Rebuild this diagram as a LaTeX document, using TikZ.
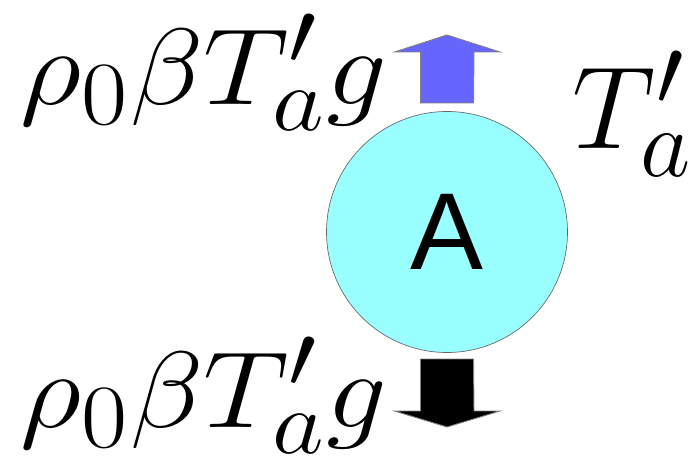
\documentclass[tikz,border=0pt]{standalone}
\usepackage{fontspec}
\newfontfamily\labelsans{Liberation Sans}
\usetikzlibrary{positioning, calc}
\definecolor{parcelcyan}{HTML}{99FFFF}
\definecolor{buoyblue}{HTML}{6666FF}

\begin{document}
\begin{tikzpicture}[
    x=0.75pt, y=-0.75pt,
    % Styles for the parcel and the force arrows
    parcel/.style={draw=gray!80!black, fill=parcelcyan, circle, minimum size=241*0.75pt, inner sep=0pt, line width=0.5pt, font=\labelsans\fontsize{82}{90}\selectfont},
    force_up/.style={draw=gray, fill=buoyblue, line width=0.7pt},
    force_down/.style={draw=gray, fill=black, line width=0.7pt},
    % Force labels are set a little wider than tall
    force_math/.style={inner sep=0pt, font=\Huge, xscale=3.63, yscale=3.27},
    big_math/.style={inner sep=0pt, font=\Huge, scale=3.53}
]
    \useasboundingbox (0,0) rectangle (696,460);

    % ==================== Parcel ====================
    \node (parcel) [parcel] at (447,232) {A};

    % ==================== Buoyancy arrow (up) ====================
    \coordinate (up_base) at (447,103);
    \draw [force_up] ($(up_base)+(-26.5,0)$) -- ++(0,-51) -- ++(-26,0) -- (447,35) -- (500,52) -- ++(-26,0) -- ($(up_base)+(26.5,0)$) -- cycle;

    % ==================== Gravity arrow (down) ====================
    \coordinate (down_base) at (447,359);
    \draw [force_down] ($(down_base)+(-26.5,0)$) -- ++(0,52) -- ++(-26,0) -- (447,427) -- (500,411) -- ++(-26,0) -- ($(down_base)+(26.5,0)$) -- cycle;

    % ==================== Labels ====================
    \node (lab_up) [force_math, anchor=base west] at (20,104) {$\rho_0\beta T'_a g$};
    \node (lab_down) [force_math, anchor=base west] at (20,427) {$\rho_0\beta T'_a g$};
    \node (lab_temp) [big_math, anchor=base west] at (572,148) {$T'_a$};

\end{tikzpicture}
\end{document}
